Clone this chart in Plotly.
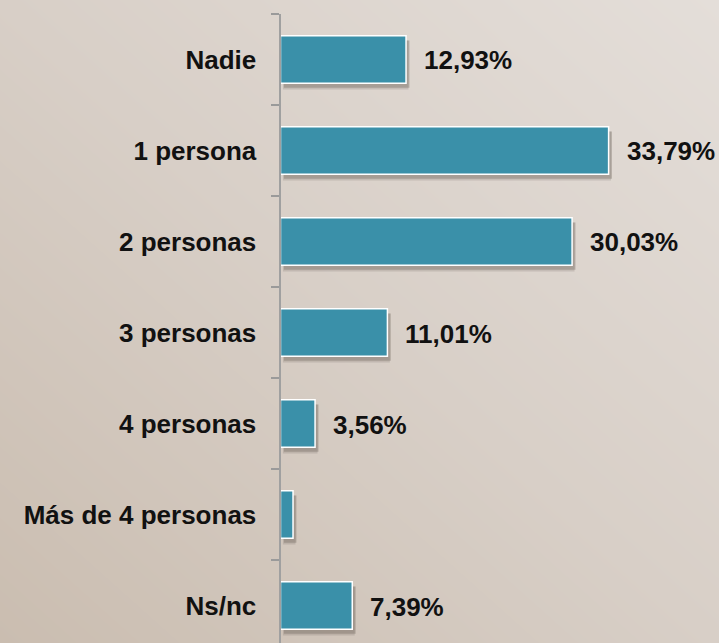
import plotly.graph_objects as go

categories = ["Nadie", "1 persona", "2 personas", "3 personas", "4 personas", "Más de 4 personas", "Ns/nc"]
values = [12.93, 33.79, 30.03, 11.01, 3.56, 1.29, 7.39]
labels = ["12,93%", "33,79%", "30,03%", "11,01%", "3,56%", "", "7,39%"]

FONT = "Liberation Sans, Arial, sans-serif"
W, H = 719, 643
BAR_W = 0.52

fig = go.Figure()

# background gradient (lighter top-right, darker bottom-left)
fig.add_trace(go.Heatmap(
    x=[0, 1], y=[0, 1], z=[[0, 1], [1, 2]],
    zsmooth="best", showscale=False, hoverinfo="skip",
    colorscale=[[0, "#cabdb0"], [0.5, "#d8cfc7"], [1, "#e4ded9"]],
    xaxis="x", yaxis="y",
))

# soft shadows
fig.add_trace(go.Bar(
    y=categories, x=values, base=[0.25] * len(values), orientation="h",
    width=BAR_W + 0.02, offset=-(BAR_W + 0.02) / 2 + 0.06,
    marker=dict(color="rgba(95,85,75,0.18)", line=dict(width=0)),
    xaxis="x2", yaxis="y2", hoverinfo="skip",
))
fig.add_trace(go.Bar(
    y=categories, x=values, base=[0.35] * len(values), orientation="h",
    width=BAR_W, offset=-BAR_W / 2 + 0.05,
    marker=dict(color="rgba(95,85,75,0.30)", line=dict(width=0)),
    xaxis="x2", yaxis="y2", hoverinfo="skip",
))
# main bars
fig.add_trace(go.Bar(
    y=categories, x=values, orientation="h", width=BAR_W,
    marker=dict(color="#3a90a9", line=dict(color="white", width=1.5)),
    xaxis="x2", yaxis="y2",
))

for c, v, t in zip(categories, values, labels):
    if t:
        fig.add_annotation(
            x=v, y=c, xref="x2", yref="y2", text=t, showarrow=False,
            xanchor="left", xshift=16, yshift=-1,
            font=dict(family=FONT, size=26, color="#111111", weight="bold"),
        )

x0 = 280.5 / W
fig.update_layout(
    width=W, height=H,
    margin=dict(l=0, r=0, t=0, b=0),
    paper_bgcolor="#d7cec6", plot_bgcolor="rgba(0,0,0,0)",
    barmode="overlay", showlegend=False,
    xaxis=dict(domain=[0, 1], range=[0, 1], visible=False, fixedrange=True),
    yaxis=dict(domain=[0, 1], range=[0, 1], visible=False, fixedrange=True),
    xaxis2=dict(domain=[x0, 1], range=[0, 438.5 / 9.71], visible=False, anchor="y2"),
    yaxis2=dict(
        domain=[0, (H - 14) / H], anchor="x2",
        type="category", categoryorder="array", categoryarray=categories,
        range=[-0.5 + 629 / 91, -0.5],
        tickson="boundaries", ticks="outside", ticklen=8, tickwidth=1.5, tickcolor="#9a9a9a",
        showline=True, linecolor="#a0a0a0", linewidth=2,
        showgrid=False, zeroline=False,
        ticklabelstandoff=17,
        tickfont=dict(family=FONT, size=26, color="#111111", weight="bold"),
    ),
)

fig.write_html(
    "out.html",
    config={"displayModeBar": False},
    post_script="document.body.style.margin='0';document.body.style.overflow='hidden';",
)
